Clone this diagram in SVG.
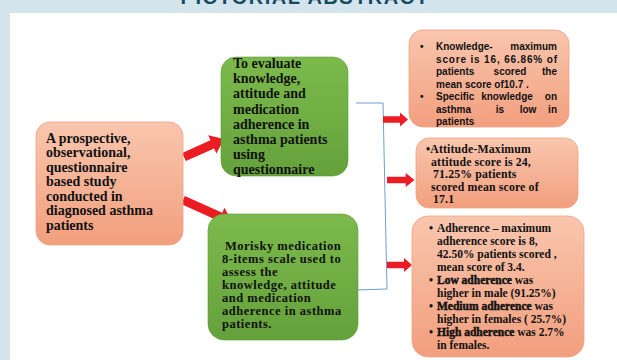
<svg xmlns="http://www.w3.org/2000/svg" width="617" height="360" viewBox="0 0 617 360">
<defs>
<linearGradient id="salmon" x1="0" y1="0" x2="0" y2="1">
<stop offset="0" stop-color="#f9c6ae"/>
<stop offset="1" stop-color="#f29f7e"/>
</linearGradient>
<linearGradient id="green" x1="0" y1="0" x2="0" y2="1">
<stop offset="0" stop-color="#7dba4c"/>
<stop offset="1" stop-color="#64a13b"/>
</linearGradient>
<polygon id="smallArrow" points="0,-3.3 17,-3.3 17,-7 25,0 17,7 17,3.3 0,3.3"/>
</defs>
<style>
.salmon{fill:url(#salmon);stroke:#efa283;stroke-width:0.8}
.green{fill:url(#green);stroke:#5f9a37;stroke-width:0.6}
.serif{font-family:"Liberation Serif","Times New Roman",serif;font-weight:bold;fill:#111}
.sans{font-family:"Liberation Sans",Arial,sans-serif;font-weight:bold;fill:#111}
.f14{font-size:14px}
.f125{font-size:12.5px;letter-spacing:0.5px}
.f118{font-size:11.8px;letter-spacing:0.15px}
.f115{font-size:11.5px}
.f10{font-size:10px}
.heavy{stroke:#111;stroke-width:0.45}
.red{fill:#ec1c24}
.bracket{fill:none;stroke:#6d9fd1;stroke-width:1}
</style>
<rect x="0" y="0" width="617" height="360" fill="#d4e4ec"/>
<rect x="10" y="13" width="607" height="347" fill="#ffffff"/>
<text x="305" y="3.5" text-anchor="middle" font-family="Liberation Sans, Arial, sans-serif" font-weight="bold" font-size="20" letter-spacing="1.5" fill="#154a63">PICTORIAL ABSTRACT</text>

<g id="connectors">
<polyline class="bracket" points="356,103 383,103 387,289 356,290"/>
<use href="#smallArrow" class="red" transform="translate(383,119.5)"/>
<use href="#smallArrow" class="red" transform="translate(387,180) scale(1.1,1)"/>
<use href="#smallArrow" class="red" transform="translate(387,265)"/>
<polygon class="red" transform="translate(184,157) rotate(-24.2)" points="0,-4.5 31,-4.5 31,-10 44,0 31,10 31,4.5 0,4.5"/>
<polygon class="red" transform="translate(183,200) rotate(24.2)" points="0,-4.5 41,-4.5 41,-10 54,0 41,10 41,4.5 0,4.5"/>
</g>

<g id="study">
<rect class="salmon" x="36" y="122" width="147" height="123" rx="14"/>
<text class="serif f14">
<tspan x="46" y="142.5">A prospective,</tspan>
<tspan x="46" y="157">observational,</tspan>
<tspan x="46" y="171.5">questionnaire</tspan>
<tspan x="46" y="186">based study</tspan>
<tspan x="46" y="200.5">conducted in</tspan>
<tspan x="46" y="215">diagnosed asthma</tspan>
<tspan x="46" y="229.5">patients</tspan>
</text>
</g>

<g id="aim">
<rect class="green" x="221" y="57" width="127" height="119" rx="15"/>
<text class="serif f14">
<tspan x="233" y="67.5">To evaluate</tspan>
<tspan x="233" y="82.5">knowledge,</tspan>
<tspan x="233" y="98">attitude and</tspan>
<tspan x="233" y="113.5">medication</tspan>
<tspan x="233" y="129">adherence in</tspan>
<tspan x="233" y="144">asthma patients</tspan>
<tspan x="233" y="159">using</tspan>
<tspan x="233" y="174">questionnaire</tspan>
</text>
</g>

<g id="method">
<rect class="green" x="208" y="214" width="150" height="126" rx="16"/>
<text class="serif f125">
<tspan x="225" y="250">Morisky medication</tspan>
<tspan x="222" y="263">8-items scale used to</tspan>
<tspan x="222" y="276">assess the</tspan>
<tspan x="222" y="289">knowledge, attitude</tspan>
<tspan x="222" y="302">and medication</tspan>
<tspan x="222" y="315">adherence in asthma</tspan>
<tspan x="222" y="328">patients.</tspan>
</text>
</g>

<g id="knowledge">
<rect class="salmon" x="409" y="30" width="160" height="97" rx="14"/>
<g class="sans f10">
<text x="420" y="50">•</text>
<text x="436" y="50">Knowledge-</text>
<text x="557" y="50" text-anchor="end">maximum</text>
<text x="436" y="62.5" textLength="121" lengthAdjust="spacing">score is 16, 66.86% of</text>
<text x="436" y="75">patients</text>
<text x="510" y="75" text-anchor="middle">scored</text>
<text x="557" y="75" text-anchor="end">the</text>
<text x="436" y="87.5">mean score of10.7 .</text>
<text x="420" y="100">•</text>
<text x="436" y="100">Specific</text>
<text x="507" y="100" text-anchor="middle">knowledge</text>
<text x="557" y="100" text-anchor="end">on</text>
<text x="436" y="112.5">asthma</text>
<text x="500" y="112.5" text-anchor="middle">is</text>
<text x="528" y="112.5" text-anchor="middle">low</text>
<text x="557" y="112.5" text-anchor="end">in</text>
<text x="436" y="125">patients</text>
</g>
</g>

<g id="attitude">
<rect class="salmon" x="416" y="138" width="162" height="70" rx="13"/>
<text class="serif f118">
<tspan x="426" y="153">•Attitude-Maximum</tspan>
<tspan x="431" y="165.5">attitude score is 24,</tspan>
<tspan x="433" y="178">71.25% patients</tspan>
<tspan x="431" y="190.5">scored mean score of</tspan>
<tspan x="433" y="203">17.1</tspan>
</text>
</g>

<g id="adherence">
<rect class="salmon" x="412" y="216" width="172" height="141" rx="16"/>
<g class="serif f115">
<text x="429" y="232">•</text>
<text x="429" y="284">•</text>
<text x="429" y="310">•</text>
<text x="429" y="336">•</text>
<text x="437" y="232">Adherence – maximum</text>
<text x="437" y="245">adherence score is 8,</text>
<text x="437" y="258">42.50% patients scored ,</text>
<text x="437" y="271">mean score of 3.4.</text>
<text x="437" y="284"><tspan class="heavy">Low adherence</tspan> was</text>
<text x="437" y="297">higher in male (91.25%)</text>
<text x="437" y="310"><tspan class="heavy">Medium adherence</tspan>  was</text>
<text x="437" y="323">higher in females ( 25.7%)</text>
<text x="437" y="336"><tspan class="heavy">High adherence</tspan> was 2.7%</text>
<text x="437" y="349">in females.</text>
</g>
</g>
</svg>
